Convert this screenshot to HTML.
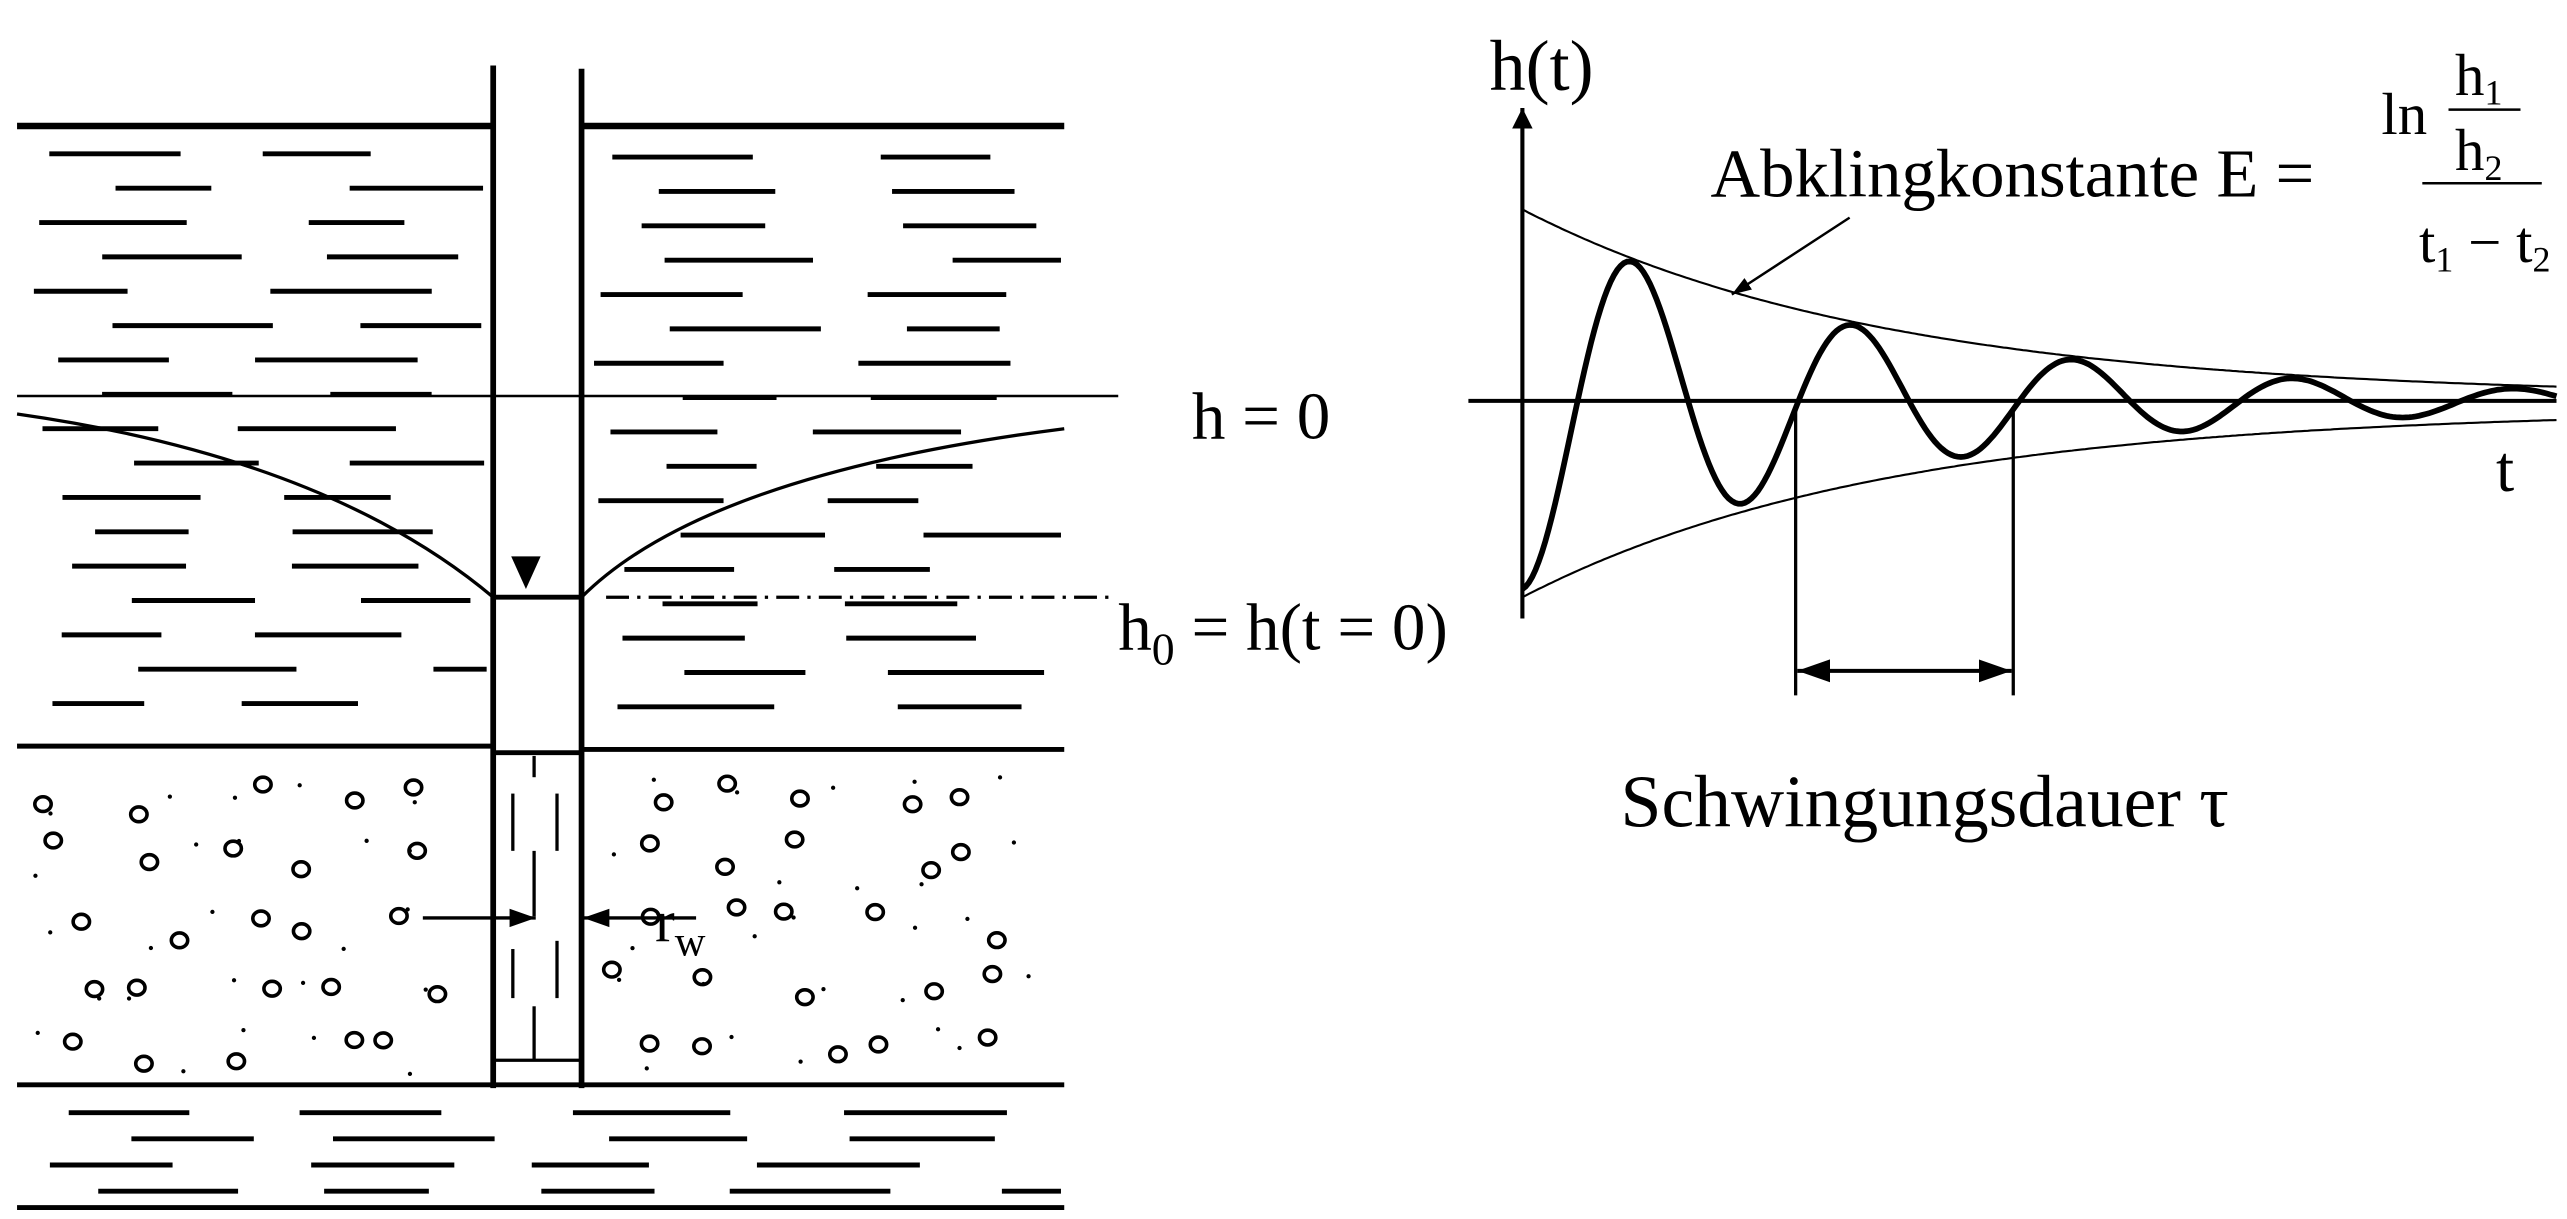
<!DOCTYPE html>
<html><head><meta charset="utf-8"><style>
html,body{margin:0;padding:0;background:#fff;}
svg{display:block;}
text{font-family:"Liberation Serif",serif;fill:#000;}
</style></head><body>
<svg id="s" width="2567" height="1219" viewBox="0 0 1568 745" xmlns="http://www.w3.org/2000/svg">
<defs>
<marker id="ah" viewBox="0 0 10 10" refX="10" refY="5" markerWidth="8" markerHeight="8" orient="auto-start-reverse"><path d="M0,1.5 L10,5 L0,8.5 z" fill="#000"/></marker>
<marker id="ah2" viewBox="0 0 10 10" refX="10" refY="5" markerWidth="5" markerHeight="9" orient="auto-start-reverse"><path d="M0,0 L10,5 L0,10 z" fill="#000"/></marker>
</defs>
<g id="dash" stroke="#000" stroke-width="3"></g>
<g id="grav" fill="none" stroke="#000" stroke-width="2.2"></g>
<g stroke="#000" fill="none">
<line x1="10" y1="77" x2="301" y2="77" stroke-width="4"/>
<line x1="355" y1="77" x2="650" y2="77" stroke-width="4"/>
<line x1="10" y1="242" x2="683" y2="242" stroke-width="1.5"/>
<line x1="10" y1="456" x2="301" y2="456" stroke-width="3"/>
<line x1="355" y1="458" x2="650" y2="458" stroke-width="3"/>
<line x1="10" y1="663" x2="650" y2="663" stroke-width="3"/>
<line x1="10" y1="738" x2="650" y2="738" stroke-width="3"/>
<line x1="301" y1="40" x2="301" y2="665" stroke-width="3.5"/>
<line x1="355" y1="42" x2="355" y2="665" stroke-width="3.5"/>
<line x1="301" y1="365" x2="355" y2="365" stroke-width="3"/>
<line x1="301" y1="460" x2="355" y2="460" stroke-width="3"/>
<line x1="301" y1="648" x2="355" y2="648" stroke-width="2"/>
<line x1="326" y1="462" x2="326" y2="475" stroke-width="2"/>
<line x1="326" y1="520" x2="326" y2="560" stroke-width="2"/>
<line x1="326" y1="615" x2="326" y2="648" stroke-width="2"/>
<line x1="313" y1="485" x2="313" y2="520" stroke-width="2"/>
<line x1="340" y1="485" x2="340" y2="520" stroke-width="2"/>
<line x1="313" y1="580" x2="313" y2="610" stroke-width="2"/>
<line x1="340" y1="575" x2="340" y2="610" stroke-width="2"/>
<path d="M10,253 Q200,280 301,365" stroke-width="2"/>
<path d="M355,365 Q430,290 650,262" stroke-width="2"/>
<line x1="258" y1="561" x2="327" y2="561" stroke-width="2" marker-end="url(#ah)"/>
<line x1="425" y1="561" x2="356" y2="561" stroke-width="2" marker-end="url(#ah)"/>
<!-- right plot -->
<line x1="930" y1="378" x2="930" y2="66" stroke-width="2.5" marker-end="url(#ah2)"/>
<line x1="897" y1="245" x2="1562" y2="245" stroke-width="2.5"/>
<line x1="1097" y1="250" x2="1097" y2="425" stroke-width="2"/>
<line x1="1230" y1="250" x2="1230" y2="425" stroke-width="2"/>
<line x1="1098" y1="410" x2="1229" y2="410" stroke-width="2.5" marker-start="url(#ah)" marker-end="url(#ah)"/>
<line x1="1130" y1="133" x2="1058" y2="180" stroke-width="1.5" marker-end="url(#ah)"/>
<path id="env1" stroke-width="1.3"/>
<path id="env2" stroke-width="1.3"/>
<path id="wave" stroke-width="3.5"/>
<line x1="1496" y1="67" x2="1540" y2="67" stroke-width="1.5"/>
<line x1="1480" y1="112" x2="1553" y2="112" stroke-width="1.5"/>
</g>
<line x1="370" y1="365" x2="680" y2="365" stroke="#000" stroke-width="2" stroke-dasharray="14,5,2,5"/>
<path d="M312,340 L330,340 L321,360 z" fill="#000"/>
<text x="728" y="268" font-size="41">h = 0</text>
<text x="683" y="397" font-size="41">h<tspan font-size="28" dy="9">0</tspan><tspan dy="-9"> = h(t = 0)</tspan></text>
<text x="400" y="575" font-size="36">r<tspan font-size="26" dy="9">w</tspan></text>
<text x="910" y="55" font-size="44">h(t)</text>
<text x="1045" y="120" font-size="42">Abklingkonstante E =</text>
<text x="1455" y="82" font-size="36">ln</text>
<text x="1500" y="58" font-size="36">h<tspan font-size="22" dy="6">1</tspan></text>
<text x="1500" y="104" font-size="36">h<tspan font-size="22" dy="6">2</tspan></text>
<text x="1478" y="160" font-size="36">t<tspan font-size="22" dy="6">1</tspan><tspan dy="-6"> − t</tspan><tspan font-size="22" dy="6">2</tspan></text>
<text x="1525" y="300" font-size="40">t</text>
<text x="990" y="505" font-size="45">Schwingungsdauer τ</text>
</svg>
<script>
var NS="http://www.w3.org/2000/svg";
function el(p,t,a){var e=document.createElementNS(NS,t);for(var k in a)e.setAttribute(k,a[k]);p.appendChild(e);return e;}
var seed=7;function r(){seed=(seed*9301+49297)%233280;return seed/233280;}
var dg=document.getElementById('dash');
function rows(y0,y1,step,x0,x1){
 var n=0;
 for(var y=y0;y<=y1;y+=step){n++;var x=x0+(n%2?0:40)+r()*30;
  while(x<x1-25){var w=55+r()*45;var xe=Math.min(x+w,x1);
   el(dg,'line',{x1:x,y1:y,x2:xe,y2:y});
   x=xe+45+r()*45;}}
}
rows(94,440,21,15,297);rows(96,442,21,362,648);
rows(680,728,16,15,648);
var gg=document.getElementById('grav');
function grav(x0,x1){
 for(var gy=0;gy<5;gy++)for(var gx=0;gx<5;gx++){
  var cw=(x1-x0)/5,x=x0+gx*cw+r()*cw*0.8,y=475+gy*38+r()*25;
  el(gg,'ellipse',{cx:x,cy:y,rx:5,ry:4.5});
  var dx=x0+gx*cw+r()*cw,dy=475+gy*38+r()*30;
  el(gg,'circle',{cx:dx,cy:dy,r:1.3,fill:'#000',stroke:'none'});
 }}
grav(18,285);grav(370,640);
var k=0.0045,w=2*Math.PI/135,A=115;
var d='',e1='',e2='';
for(var x=0;x<=632;x+=2){var a=A*Math.exp(-k*x);var X=930+x;
 d+=(x?'L':'M')+X+','+(245+a*Math.cos(w*x)).toFixed(1);
 e1+=(x?'L':'M')+X+','+(245-a-2).toFixed(1);
 e2+=(x?'L':'M')+X+','+(250+a).toFixed(1);}
document.getElementById('wave').setAttribute('d',d);
document.getElementById('env1').setAttribute('d',e1);
document.getElementById('env2').setAttribute('d',e2);
</script>
</body></html>
